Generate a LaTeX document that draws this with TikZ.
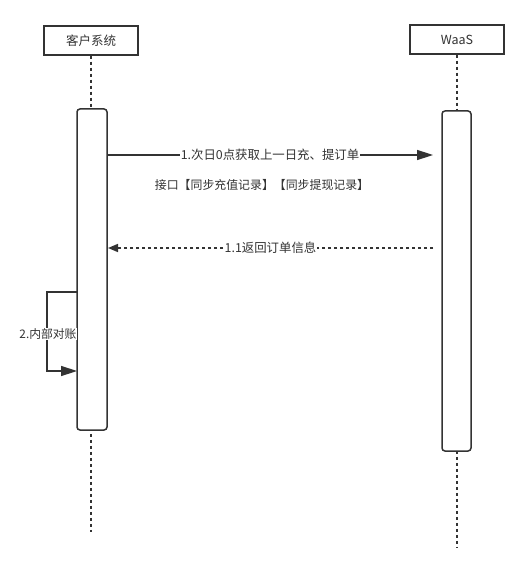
\documentclass[tikz,border=0pt]{standalone}
\usepackage{fontspec}
\setmainfont{Noto Sans CJK SC}
\usetikzlibrary{arrows.meta}
\definecolor{ink}{HTML}{333333}
\begin{document}
\begin{tikzpicture}[x=1pt,y=-1pt,
  actor/.style={draw=ink,line width=1.5pt,fill=white,minimum width=94pt,minimum height=29pt,inner sep=0pt,font=\fontsize{12.5}{14}\selectfont,text=ink},
  activ/.style={draw=ink,line width=1.5pt,fill=white,rounded corners=3pt},
  life/.style={draw=ink,line width=1.5pt,dash pattern=on 3pt off 3pt},
  msg/.style={draw=ink,line width=1.5pt},
  lbl/.style={fill=white,inner sep=0.5pt,text=ink,font=\fontsize{12.4}{14}\selectfont},
  txt/.style={inner sep=1pt,text=ink,font=\fontsize{11.9}{14}\selectfont}]
\useasboundingbox[fill=white] (0,0) rectangle (528,572);
% actors
\node[actor] (sys) at (91,40.5) {客户系统};
\node[actor] (waas) at (457,39.5) {WaaS};
\coordinate (sysend) at (91,532);
\coordinate (waasend) at (457,548);
\draw[life] (sys.south) -- (sysend);
\draw[life] (waas.south) -- (waasend);
% activations
\draw[activ] (77,109) rectangle (107,430);
\draw[activ] (442,111) rectangle (471,451);
\coordinate (a1s) at (107,155);
\coordinate (a1e) at (433,155);
\coordinate (a2s) at (433,248);
\coordinate (a2e) at (108,248);
% message 1
\draw[msg,-{Triangle[length=16pt,width=10pt]}] (a1s) -- node[lbl] (m1) {1.次日0点获取上一日充、提订单} (a1e);
\node[txt] (m1b) at (262,185) {接口【同步充值记录】【同步提现记录】};
% message 1.1
\draw[msg,dash pattern=on 3pt off 3pt,-{Triangle[length=10pt,width=8pt]}] (a2s) -- node[lbl] (m2) {1.1返回订单信息} (a2e);
% self message
\coordinate (s1) at (77,292);
\coordinate (s2) at (47,292);
\coordinate (s3) at (47,371);
\coordinate (s4) at (77,371);
\draw[msg,-{Triangle[length=16pt,width=10pt]}] (s1) -- (s2) -- (s3) -- (s4);
\node[lbl,font=\fontsize{11.8}{14}\selectfont] (m3) at (48,334) {2.内部对账};
\end{tikzpicture}
\end{document}
